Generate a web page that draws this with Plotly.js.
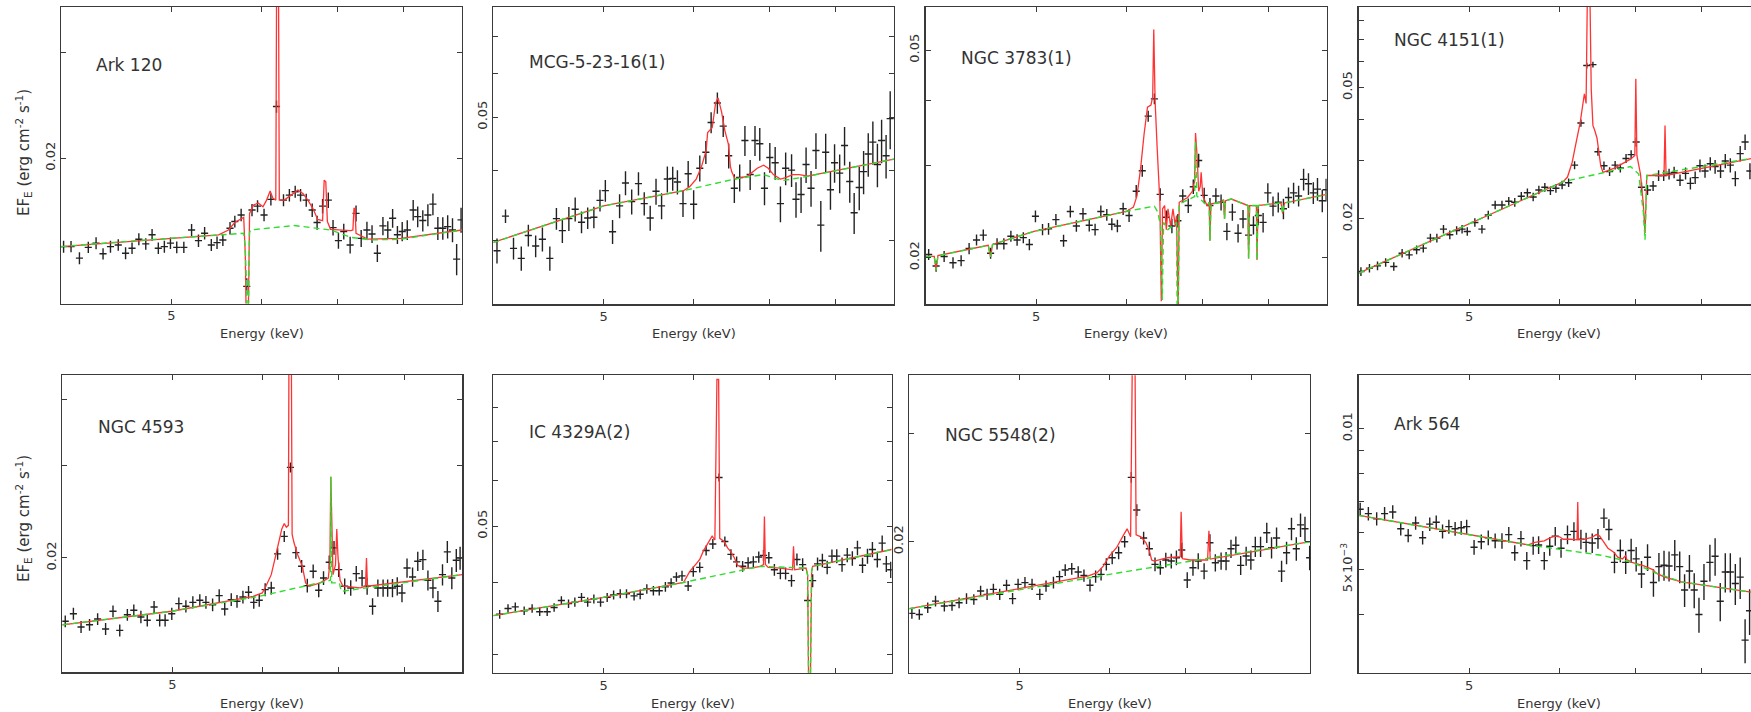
<!DOCTYPE html>
<html><head><meta charset="utf-8">
<script src="https://cdn.plot.ly/plotly-3.0.1.min.js"></script>
<style>html,body{margin:0;padding:0;background:#fff;overflow:hidden}#chart{width:1751px;height:712px}</style>
</head><body><div id="chart"></div>
<script>
// ---------------- DATA ----------------
const sourceNames = ['Ark 120','MCG-5-23-16(1)','NGC 3783(1)','NGC 4151(1)','NGC 4593','IC 4329A(2)','NGC 5548(2)','Ark 564'];
const xTickVals = [5,6,7,8];
const xTickText = ['5','','',''];

// Ark 120
const ark120_energy = [4.021,4.082,4.152,4.227,4.294,4.355,4.421,4.491,4.558,4.618,4.682,4.748,4.809,4.870,4.930,4.991,5.055,5.128,5.209,5.282,5.348,5.421,5.484,5.549,5.630,5.685,5.758,5.824,5.886,5.952,6.031,6.115,6.185,6.273,6.348,6.423,6.493,6.568,6.648,6.714,6.789,6.868,6.934,7.010,7.086,7.178,7.264,7.340,7.426,7.503,7.584,7.670,7.746,7.822,7.898,7.975,8.057,8.154,8.229,8.314,8.400,8.486,8.571,8.657,8.743,8.829,8.903,8.983];
const ark120_flux = [0.01423,0.01423,0.01361,0.01419,0.01442,0.01384,0.01423,0.01432,0.01387,0.01414,0.01464,0.01438,0.01489,0.01414,0.01423,0.01442,0.01419,0.01419,0.01517,0.01456,0.01498,0.01432,0.01445,0.01460,0.01527,0.01567,0.01607,0.01221,0.01638,0.01663,0.01607,0.01707,0.02440,0.01702,0.01735,0.01758,0.01735,0.01702,0.01638,0.01561,0.01663,0.01702,0.01531,0.01456,0.01508,0.01432,0.01617,0.01469,0.01517,0.01494,0.01387,0.01541,0.01517,0.01587,0.01489,0.01508,0.01517,0.01638,0.01597,0.01573,0.01607,0.01676,0.01527,0.01527,0.01537,0.01517,0.01356,0.01577];
const ark120_errpct = [2.3,2.2,2.3,2.2,2.3,2.2,2.3,2.2,2.3,2.2,2.3,2.2,2.3,2.2,2.3,2.2,2.3,2.2,2.3,2.4,2.4,2.3,2.4,2.3,2.4,2.3,2.4,3.2,2.4,2.3,2.4,2.3,2.4,2.3,2.4,2.3,2.4,2.5,2.6,2.7,2.8,3.0,3.0,3.1,3.0,3.2,3.1,3.3,3.2,3.4,3.3,3.5,3.4,3.6,3.5,3.7,3.8,3.9,4.0,4.1,4.2,4.2,4.4,4.3,4.5,4.6,6.0,4.8];
const ark120_modelE = [4.0,4.658,5.502,5.612,5.685,5.788,5.806,5.821,5.839,5.857,5.905,5.960,6.018,6.062,6.106,6.141,6.176,6.189,6.207,6.220,6.282,6.370,6.458,6.524,6.590,6.656,6.722,6.789,6.811,6.833,6.855,6.899,7.188,7.218,7.234,7.249,7.264,7.442,7.949,9.0];
const ark120_modelF = [0.01423,0.01456,0.01489,0.01517,0.01561,0.01592,0.01387,0.0100,0.0100,0.01617,0.01670,0.01683,0.01659,0.01702,0.01762,0.01713,0.01702,0.05,0.05,0.01702,0.01702,0.01735,0.01769,0.01746,0.01702,0.01649,0.01580,0.01573,0.01838,0.01826,0.01567,0.01521,0.01513,0.01517,0.01649,0.01649,0.01498,0.01464,0.01469,0.01517];
const ark120_contE = [4.0,4.658,5.538,5.788,5.806,5.821,5.839,5.857,5.868,6.414,6.899,7.188,7.492,7.949,9.0];
const ark120_contF = [0.01423,0.01456,0.01489,0.01498,0.0142,0.0100,0.0100,0.0150,0.01517,0.01543,0.01517,0.01475,0.01460,0.01464,0.01517];

// MCG-5-23-16(1)
const mcg_energy = [4.030,4.100,4.167,4.233,4.294,4.358,4.418,4.485,4.545,4.600,4.661,4.721,4.782,4.842,4.903,4.964,5.018,5.092,5.165,5.227,5.293,5.366,5.429,5.495,5.560,5.623,5.689,5.751,5.806,5.872,5.934,6.000,6.075,6.150,6.216,6.295,6.370,6.441,6.515,6.586,6.656,6.727,6.793,6.859,6.925,7.000,7.076,7.152,7.228,7.315,7.381,7.457,7.533,7.609,7.685,7.761,7.838,7.914,7.980,8.063,8.143,8.229,8.303,8.389,8.463,8.543,8.623,8.703,8.777,8.857,8.931];
const mcg_flux = [0.02870,0.03313,0.02898,0.02780,0.03058,0.02926,0.03010,0.02780,0.03279,0.03120,0.03279,0.03409,0.03231,0.03288,0.03298,0.03538,0.03683,0.03106,0.03457,0.03803,0.03519,0.03793,0.03490,0.03288,0.03673,0.03457,0.03865,0.03875,0.03817,0.03490,0.03952,0.03481,0.04043,0.04321,0.04889,0.05303,0.04815,0.04259,0.03721,0.03889,0.04537,0.03938,0.04537,0.04475,0.03721,0.04228,0.04136,0.03490,0.04043,0.04012,0.03553,0.03625,0.04105,0.03721,0.04352,0.03192,0.04321,0.03697,0.04136,0.03962,0.04444,0.03827,0.03361,0.03731,0.03986,0.04290,0.04506,0.04105,0.04537,0.04259,0.04969];
const mcg_errpct = [5.2,2.8,4.5,5,4.5,4.5,5,5,4.5,5,5,5,4.5,4.5,4.5,4.5,4.5,5,5,5,5.2,4.8,4.8,5.2,5.4,5.4,5.4,5,5,5.4,5.4,6,5.4,4.8,4.4,4.4,4.4,5.2,6,5.6,6.2,6.2,6.2,6.8,6.8,6.2,6.8,7.4,6.8,6.8,7.4,7.4,7.4,7.4,7.4,10.5,8,8,8,8,8,8.5,8.5,9,9,9,9,9,9,9,12];
const mcg_modelE = [4.0,5.0,5.879,5.952,6.031,6.097,6.154,6.172,6.229,6.273,6.304,6.348,6.392,6.436,6.463,6.480,6.524,6.692,6.824,6.912,6.978,7.051,7.152,7.228,7.330,7.431,7.558,9.0];
const mcg_modelF = [0.02971,0.03457,0.03683,0.03745,0.03865,0.04074,0.04352,0.04691,0.04784,0.05303,0.05417,0.05114,0.04722,0.04475,0.04074,0.03986,0.03865,0.03913,0.04043,0.04093,0.04043,0.03938,0.03865,0.03889,0.03938,0.03938,0.03913,0.04198];
const mcg_contE = [4.0,5.0,5.879,6.515,6.912,7.178,7.457,9.0];
const mcg_contF = [0.02971,0.03457,0.03683,0.03865,0.03938,0.03841,0.03889,0.04198];

// NGC 3783(1)
const n3783_energy = [4.024,4.085,4.152,4.227,4.297,4.367,4.433,4.494,4.561,4.621,4.685,4.752,4.812,4.873,4.933,4.994,5.066,5.128,5.205,5.286,5.359,5.425,5.498,5.568,5.634,5.700,5.769,5.828,5.894,5.963,6.035,6.123,6.198,6.273,6.352,6.427,6.507,6.581,6.661,6.727,6.802,6.872,6.947,7.025,7.107,7.193,7.269,7.355,7.437,7.523,7.599,7.685,7.761,7.838,7.914,7.990,8.074,8.160,8.246,8.331,8.417,8.503,8.589,8.674,8.760,8.834,8.920,8.990];
const n3783_flux = [0.02029,0.01928,0.02011,0.01956,0.01974,0.02083,0.02163,0.02210,0.02040,0.02127,0.02127,0.02199,0.02163,0.02185,0.02120,0.02402,0.02264,0.02272,0.02366,0.02156,0.02453,0.02301,0.02428,0.02308,0.02264,0.02453,0.02417,0.02319,0.02301,0.02482,0.02409,0.02681,0.02935,0.03736,0.04033,0.02645,0.02391,0.02301,0.02355,0.02627,0.02518,0.02736,0.03071,0.02634,0.02518,0.02627,0.02554,0.02246,0.02446,0.02228,0.02373,0.02210,0.02308,0.02409,0.02337,0.02663,0.02511,0.02554,0.02482,0.02609,0.02663,0.02627,0.02826,0.02772,0.02663,0.02707,0.02572,0.02699];
const n3783_errpct = [2.4,2.5,2.4,2.5,2.4,2.5,2.4,2.5,2.4,2.5,2.5,2.4,2.5,2.4,2.5,2.6,2.5,2.6,2.5,2.6,2.6,2.5,2.6,2.7,2.6,2.7,2.6,2.7,2.8,2.7,2.8,2.8,2.6,2.4,2.4,2.8,3,3.2,3,3,3.2,3.2,3,3.4,3.4,3.5,3.5,3.8,3.8,4,4,4.2,4,4.2,4.3,4.3,4.4,4.4,4.5,4.5,4.6,4.6,4.8,4.8,4.8,5,5,5];
const n3783_modelE = [4.000,4.070,4.085,4.100,4.539,4.561,4.579,4.979,6.000,6.088,6.132,6.176,6.220,6.264,6.308,6.330,6.344,6.361,6.388,6.405,6.423,6.441,6.458,6.485,6.507,6.529,6.564,6.595,6.626,6.643,6.652,6.665,6.679,6.793,6.859,6.890,6.903,6.925,6.947,6.969,6.982,7.005,7.066,7.096,7.107,7.122,7.269,7.305,7.320,7.335,7.421,7.675,7.685,7.701,7.807,7.817,7.832,8.206,8.234,8.263,9.0];
const n3783_modelF = [0.02011,0.02011,0.0189,0.02018,0.02113,0.02007,0.0212,0.02246,0.02453,0.025,0.02627,0.02953,0.03442,0.03888,0.03924,0.04067,0.0548,0.04,0.03239,0.02844,0.02554,0.0165,0.02482,0.02518,0.02264,0.02482,0.02301,0.02482,0.02301,0.02409,0.0155,0.0155,0.02554,0.02609,0.02681,0.02808,0.03467,0.03137,0.02681,0.02736,0.02917,0.02627,0.02518,0.02554,0.02156,0.02536,0.02554,0.02583,0.02373,0.02572,0.02591,0.02518,0.01994,0.02518,0.02518,0.0198,0.02518,0.02547,0.02428,0.02547,0.02645];
const n3783_contE = [4.000,4.070,4.085,4.100,4.539,4.561,4.579,4.979,6.000,6.352,6.396,6.432,6.454,6.471,6.529,6.595,6.643,6.652,6.665,6.679,6.859,6.890,6.903,6.921,7.066,7.096,7.107,7.122,7.269,7.305,7.320,7.335,7.421,7.675,7.685,7.701,7.807,7.817,7.832,8.206,8.234,8.263,9.0];
const n3783_contF = [0.02011,0.02011,0.0189,0.02018,0.02113,0.02007,0.0212,0.02246,0.02453,0.02511,0.02446,0.02301,0.0166,0.02337,0.02264,0.02301,0.02337,0.0155,0.0155,0.02536,0.02609,0.0262,0.0334,0.02627,0.02518,0.02554,0.02156,0.02536,0.02554,0.02583,0.02373,0.02572,0.02591,0.02518,0.01994,0.02518,0.02518,0.0198,0.02518,0.02547,0.02428,0.02547,0.02645];

// NGC 4151(1)
const n4151_energy = [4.018,4.088,4.155,4.224,4.294,4.367,4.430,4.497,4.558,4.624,4.685,4.748,4.809,4.876,4.930,4.982,5.059,5.132,5.198,5.271,5.344,5.418,5.484,5.557,5.626,5.692,5.758,5.828,5.894,5.960,6.035,6.115,6.189,6.269,6.344,6.423,6.489,6.568,6.643,6.718,6.789,6.868,6.939,7.010,7.086,7.173,7.254,7.335,7.411,7.492,7.569,7.660,7.746,7.822,7.898,7.975,8.057,8.143,8.223,8.314,8.394,8.480,8.566,8.651,8.737,8.823];
const n4151_flux = [0.01383,0.01416,0.01439,0.01474,0.01433,0.01572,0.01554,0.01610,0.01629,0.01747,0.01747,0.01860,0.01788,0.01843,0.01860,0.01830,0.01949,0.01860,0.02052,0.02202,0.02202,0.02260,0.02243,0.02341,0.02399,0.02329,0.02445,0.02491,0.02434,0.02474,0.02532,0.02572,0.02908,0.03903,0.05833,0.05872,0.03194,0.02896,0.02780,0.02908,0.02850,0.03048,0.03129,0.03419,0.02491,0.02445,0.02514,0.02705,0.02705,0.02734,0.02763,0.02618,0.02746,0.02561,0.02665,0.02896,0.02792,0.02936,0.02879,0.02792,0.02994,0.02908,0.02647,0.03153,0.03419,0.02792];
const n4151_errpct = [3,3,3,3,3,3,3,3,3,3,3,3,3,3,3,3,3,3,3,3,3,3,3,3,3,3,3,3,3,3,3,3,2.8,2.5,2,2,2.8,3,3,3,3,3.2,3.2,3.2,3.5,3.5,3.5,3.8,3.8,3.8,4,4,4.2,4.2,4.4,4.4,4.6,4.6,4.8,4.8,5,5,5.2,5.4,5.4,5.6];
const n4151_modelE = [4.0,5.198,6.048,6.101,6.159,6.203,6.260,6.313,6.335,6.352,6.383,6.401,6.423,6.445,6.476,6.524,6.555,6.709,6.930,6.991,7.005,7.020,7.071,7.112,7.137,7.162,7.416,7.431,7.447,8.857];
const n4151_modelF = [0.01367,0.02052,0.0259,0.02676,0.02965,0.03355,0.03919,0.04789,0.04474,0.1,0.1,0.04947,0.03839,0.03718,0.03516,0.02908,0.02763,0.0285,0.03032,0.03113,0.0532,0.03113,0.02734,0.02214,0.01809,0.02705,0.02705,0.03839,0.02705,0.03048];
const n4151_contE = [4.0,5.198,6.048,6.930,7.046,7.112,7.137,7.162,8.857];
const n4151_contF = [0.01367,0.02052,0.0259,0.02879,0.02734,0.02098,0.01727,0.02705,0.03048];

// NGC 4593
const n4593_energy = [4.024,4.091,4.155,4.227,4.297,4.367,4.433,4.494,4.564,4.624,4.691,4.752,4.818,4.873,4.927,4.994,5.066,5.139,5.212,5.286,5.352,5.425,5.498,5.560,5.634,5.700,5.769,5.835,5.897,5.963,6.035,6.110,6.189,6.273,6.352,6.423,6.498,6.573,6.652,6.727,6.793,6.872,6.939,7.005,7.091,7.178,7.259,7.345,7.421,7.503,7.584,7.665,7.736,7.812,7.888,7.964,8.046,8.137,8.223,8.309,8.394,8.480,8.566,8.646,8.731,8.811,8.891,8.960];
const n4593_flux = [0.01516,0.01567,0.01479,0.01493,0.01531,0.01466,0.01584,0.01457,0.01560,0.01591,0.01545,0.01523,0.01614,0.01523,0.01523,0.01567,0.01638,0.01619,0.01647,0.01662,0.01647,0.01630,0.01696,0.01600,0.01667,0.01655,0.01686,0.01721,0.01647,0.01662,0.01741,0.01754,0.02036,0.02198,0.02971,0.02047,0.01928,0.01772,0.01887,0.01736,0.01832,0.01962,0.02090,0.01900,0.01767,0.01754,0.01867,0.01832,0.01767,0.01619,0.01754,0.01754,0.01754,0.01754,0.01767,0.01716,0.01914,0.01840,0.01971,0.01985,0.01814,0.01754,0.01655,0.01859,0.02054,0.01832,0.01980,0.02000];
const n4593_errpct = [2.6,2.6,2.6,2.6,2.6,2.6,2.6,2.6,2.6,2.6,2.7,2.7,2.7,2.7,2.7,2.7,2.7,2.7,2.7,2.7,2.8,2.8,2.8,2.8,2.8,2.8,2.8,2.8,2.8,2.8,2.8,2.8,2.6,2.4,2.2,2.6,2.8,3,3,3,3,3,3,3.2,3.4,3.4,3.4,3.6,3.6,3.6,3.8,3.8,3.8,4,4,4,4.2,4.2,4.2,4.4,4.4,4.4,4.6,4.6,4.8,4.8,5,5];
const n4593_modelE = [4.0,4.994,5.890,6.000,6.044,6.110,6.176,6.242,6.273,6.300,6.326,6.335,6.361,6.374,6.396,6.441,6.507,6.551,6.595,6.749,6.859,6.881,6.894,6.912,6.925,6.960,6.978,6.996,7.025,7.066,7.320,7.396,7.411,7.426,9.0];
const n4593_modelF = [0.01493,0.01584,0.01691,0.01716,0.01767,0.01859,0.02054,0.0227,0.02324,0.02288,0.02306,0.06,0.06,0.02216,0.02144,0.02036,0.01928,0.01793,0.01767,0.01793,0.01832,0.01957,0.02853,0.01957,0.01859,0.01943,0.0227,0.02,0.01814,0.01767,0.01754,0.01767,0.02,0.01767,0.01859];
const n4593_contE = [4.0,4.994,5.963,6.859,6.890,6.894,6.907,7.015,7.041,9.0];
const n4593_contF = [0.01493,0.01584,0.01691,0.01814,0.01814,0.02853,0.01793,0.01793,0.01728,0.01859];

// IC 4329A(2)
const ic4329a_energy = [4.052,4.121,4.182,4.258,4.327,4.394,4.461,4.524,4.591,4.658,4.718,4.782,4.842,4.903,4.970,5.037,5.103,5.172,5.238,5.319,5.385,5.458,5.531,5.597,5.667,5.733,5.795,5.861,5.934,5.996,6.075,6.154,6.238,6.317,6.392,6.471,6.546,6.626,6.700,6.771,6.846,6.912,6.987,7.066,7.152,7.228,7.315,7.396,7.482,7.558,7.635,7.711,7.787,7.863,7.939,8.017,8.103,8.189,8.274,8.360,8.446,8.531,8.617,8.703,8.789,8.863,8.943];
const ic4329a_flux = [0.03525,0.03608,0.03631,0.03576,0.03608,0.03562,0.03562,0.03622,0.03724,0.03677,0.03700,0.03770,0.03700,0.03747,0.03700,0.03770,0.03806,0.03825,0.03825,0.03793,0.03816,0.03899,0.03871,0.03871,0.03931,0.03991,0.04088,0.04106,0.03945,0.04176,0.04247,0.04541,0.04659,0.06068,0.04706,0.04471,0.04341,0.04265,0.04324,0.04341,0.04424,0.04453,0.04412,0.04206,0.04147,0.04147,0.04029,0.04382,0.04294,0.03724,0.04029,0.04306,0.04365,0.04247,0.04441,0.04441,0.04294,0.04459,0.04400,0.04588,0.04282,0.04441,0.04559,0.04382,0.04676,0.04306,0.04206];
const ic4329a_errpct = [1.7,1.7,1.7,1.7,1.7,1.7,1.7,1.7,1.7,1.7,1.8,1.8,1.8,1.8,1.8,1.8,1.8,1.8,1.8,1.8,1.9,1.9,1.9,1.9,1.9,1.9,1.9,2,2,2,2,2,2,1.6,2,2.1,2.1,2.1,2.2,2.2,2.2,2.2,2.3,2.3,2.3,2.4,2.4,2.4,2.5,2.6,2.6,2.6,2.7,2.7,2.7,2.8,2.8,2.8,2.9,2.9,3,3,3,3.1,3.1,3.2,3.2];
const ic4329a_modelE = [4.0,5.0,5.879,5.952,6.031,6.075,6.119,6.185,6.229,6.264,6.290,6.312,6.326,6.383,6.427,6.471,6.515,6.559,6.626,6.736,6.868,6.912,6.925,6.938,6.978,7.152,7.330,7.345,7.360,7.533,7.558,7.574,7.599,7.619,7.635,8.96];
const ic4329a_modelF = [0.03507,0.0377,0.04,0.04176,0.04306,0.04382,0.04529,0.04706,0.04806,0.04735,0.0895,0.0895,0.04765,0.04706,0.04588,0.04518,0.04412,0.04282,0.04235,0.04235,0.04265,0.04294,0.05197,0.04294,0.04247,0.04235,0.04206,0.04618,0.04206,0.04235,0.04118,0.026,0.026,0.04176,0.04265,0.04559];
const ic4329a_contE = [4.0,5.0,5.879,6.868,7.533,7.558,7.574,7.599,7.619,7.635,8.96];
const ic4329a_contF = [0.03507,0.0377,0.04,0.04265,0.04235,0.04118,0.026,0.026,0.04176,0.04265,0.04559];

// NGC 5548(2)
const n5548_energy = [4.021,4.082,4.152,4.218,4.294,4.361,4.424,4.491,4.558,4.621,4.682,4.742,4.803,4.870,4.930,4.985,5.055,5.128,5.209,5.275,5.355,5.421,5.484,5.557,5.630,5.696,5.766,5.832,5.897,5.960,6.031,6.110,6.185,6.269,6.339,6.427,6.502,6.577,6.648,6.722,6.797,6.868,6.943,7.020,7.102,7.178,7.264,7.350,7.431,7.518,7.594,7.670,7.746,7.822,7.909,7.985,8.057,8.143,8.246,8.326,8.411,8.497,8.583,8.669,8.754,8.829,8.909,8.994];
const n5548_flux = [0.01528,0.01522,0.01561,0.01600,0.01571,0.01574,0.01590,0.01615,0.01610,0.01662,0.01641,0.01672,0.01641,0.01698,0.01615,0.01704,0.01715,0.01704,0.01641,0.01693,0.01715,0.01754,0.01798,0.01807,0.01785,0.01762,0.01698,0.01754,0.01769,0.01837,0.01883,0.01919,0.02000,0.02546,0.02253,0.02028,0.01948,0.01837,0.01814,0.01867,0.01860,0.01883,0.01938,0.01732,0.01814,0.01860,0.01791,0.01992,0.01848,0.01860,0.01860,0.01948,0.01973,0.01830,0.01895,0.01867,0.01963,0.01963,0.02068,0.01955,0.02028,0.01791,0.01919,0.02099,0.01948,0.02130,0.02099,0.01883];
const n5548_errpct = [2,2,2,2,2,2,2,2,2,2,2.1,2.1,2.1,2.1,2.1,2.1,2.1,2.1,2.1,2.1,2.2,2.2,2.2,2.2,2.2,2.3,2.3,2.3,2.3,2.3,2.4,2.4,2.2,2,2.2,2.4,2.6,2.6,2.6,2.8,2.8,2.8,2.8,3,3,3,3,3.2,3.2,3.2,3.4,3.4,3.4,3.6,3.6,3.6,3.8,3.8,3.8,4,4,4,4.2,4.2,4.4,4.4,4.6,4.6];
const n5548_modelE = [4.0,5.740,5.850,5.923,5.996,6.084,6.172,6.216,6.238,6.260,6.286,6.313,6.330,6.392,6.458,6.502,6.533,6.568,6.744,6.921,6.934,6.952,7.061,7.315,7.335,7.355,9.0];
const n5548_modelF = [0.01555,0.01758,0.0178,0.01825,0.01895,0.01955,0.02052,0.02099,0.02068,0.02037,0.045,0.045,0.02052,0.02037,0.01992,0.01931,0.01867,0.0186,0.01883,0.0189,0.02238,0.01876,0.01867,0.01867,0.02083,0.01874,0.02];
const n5548_contE = [4.0,5.996,9.0];
const n5548_contF = [0.01555,0.01769,0.02];

// Ark 564
const ark564_energy = [4.012,4.079,4.148,4.215,4.285,4.355,4.421,4.488,4.552,4.618,4.679,4.739,4.800,4.861,4.921,4.976,5.051,5.125,5.198,5.271,5.344,5.418,5.484,5.553,5.619,5.692,5.755,5.821,5.886,5.952,6.022,6.101,6.181,6.269,6.335,6.414,6.489,6.568,6.634,6.709,6.789,6.863,6.939,7.010,7.086,7.173,7.259,7.340,7.416,7.492,7.579,7.655,7.731,7.807,7.883,7.959,8.040,8.137,8.223,8.309,8.394,8.480,8.566,8.651,8.737,8.817];
const ark564_flux = [0.006725,0.006582,0.006418,0.006582,0.006637,0.006110,0.005911,0.006286,0.005848,0.006253,0.006308,0.006033,0.006176,0.006110,0.006143,0.006176,0.005580,0.005732,0.005848,0.005759,0.005759,0.005938,0.005429,0.005821,0.005223,0.005625,0.005643,0.005223,0.005607,0.005893,0.005554,0.005938,0.006033,0.005804,0.005714,0.005696,0.005821,0.006440,0.006088,0.005179,0.005491,0.005179,0.005491,0.005268,0.004890,0.005313,0.004691,0.005071,0.005107,0.005089,0.005375,0.005071,0.004522,0.004963,0.004522,0.004007,0.004721,0.005179,0.005339,0.004279,0.004941,0.004941,0.004669,0.004816,0.003534,0.004081];
const ark564_errpct = [3.3,3.3,3.3,3.3,3.3,3.3,3.3,3.3,3.3,3.3,3.4,3.4,3.4,3.4,3.4,3.4,3.6,3.6,3.6,3.6,3.8,3.8,3.8,3.8,4.4,4.4,4.4,4.4,4.6,4.6,4.6,4.6,4.6,4.8,4.8,4.8,4.8,4.8,5.2,5.2,5.6,5.6,6,6,6.6,6.6,6.8,7,7.4,7.4,7.6,7.8,8,8.2,8.6,8.6,8.8,9,9.2,9.4,9.6,9.6,10,10.2,10.8,11.2];
const ark564_modelE = [4.0,5.637,5.711,5.821,5.894,5.949,6.004,6.048,6.137,6.220,6.229,6.238,6.313,6.401,6.467,6.511,6.555,6.621,6.700,6.753,6.819,6.863,6.877,6.952,7.122,7.249,7.300,7.426,7.680,8.857];
const ark564_modelF = [0.006527,0.005643,0.005714,0.005759,0.005848,0.005893,0.005875,0.005804,0.005804,0.005786,0.006967,0.005786,0.005804,0.005848,0.005938,0.005893,0.005759,0.005554,0.005446,0.005313,0.005268,0.005357,0.00525,0.005179,0.005089,0.005,0.004912,0.004816,0.004706,0.004471];
const ark564_contE = [4.0,5.637,6.048,6.555,6.952,7.300,7.680,8.857];
const ark564_contF = [0.006527,0.005643,0.005509,0.005357,0.005179,0.004912,0.004706,0.004471];

// y tick values / labels per panel
const yTicks_ark120 = [0.02,0.03];            const yLabels_ark120 = ['0.02',''];
const yTicks_mcg = [0.03,0.04,0.05,0.06,0.07]; const yLabels_mcg = ['','','0.05','',''];
const yTicks_n3783 = [0.02,0.03,0.04,0.05];   const yLabels_n3783 = ['0.02','','','0.05'];
const yTicks_n4151 = [0.02,0.03,0.04,0.05,0.06,0.07,0.08]; const yLabels_n4151 = ['0.02','','','0.05','','',''];
const yTicks_n4593 = [0.02,0.03,0.04];        const yLabels_n4593 = ['0.02','',''];
const yTicks_ic4329a = [0.03,0.04,0.05,0.06,0.07,0.08]; const yLabels_ic4329a = ['','','0.05','','',''];
const yTicks_n5548 = [0.02,0.03];             const yLabels_n5548 = ['0.02',''];
const yTicks_ark564 = [0.004,0.005,0.006,0.007,0.008,0.009,0.01]; const yLabels_ark564 = ['','5×10<sup>−3</sup>','','','','','0.01'];

// ---------------- LAYOUT / STYLE ----------------
const W = 1751, H = 712;
const panels = [
  {E:ark120_energy,F:ark120_flux,P:ark120_errpct,mE:ark120_modelE,mF:ark120_modelF,cE:ark120_contE,cF:ark120_contF,yt:yTicks_ark120,yl:yLabels_ark120,
   px:[61,462],py:[7,303.5],xmax:9,yr:[0.01143,0.0358],name:[94,65],mirrorY:true},
  {E:mcg_energy,F:mcg_flux,P:mcg_errpct,mE:mcg_modelE,mF:mcg_modelF,cE:mcg_contE,cF:mcg_contF,yt:yTicks_mcg,yl:yLabels_mcg,
   px:[493.3,894],py:[7,304.3],xmax:9,yr:[0.02297,0.079],name:[527,62],mirrorY:true},
  {E:n3783_energy,F:n3783_flux,P:n3783_errpct,mE:n3783_modelE,mF:n3783_modelF,cE:n3783_contE,cF:n3783_contF,yt:yTicks_n3783,yl:yLabels_n3783,
   px:[925.7,1326.7],py:[7,304.3],xmax:9,yr:[0.01628,0.0605],name:[959,58],mirrorY:true},
  {E:n4151_energy,F:n4151_flux,P:n4151_errpct,mE:n4151_modelE,mF:n4151_modelF,cE:n4151_contE,cF:n4151_contF,yt:yTicks_n4151,yl:yLabels_n4151,
   px:[1358.7,1751],py:[7,304.3],xmax:8.842,yr:[0.011,0.0878],name:[1392,40],mirrorY:false,titleX:1559},
  {E:n4593_energy,F:n4593_flux,P:n4593_errpct,mE:n4593_modelE,mF:n4593_modelF,cE:n4593_contE,cF:n4593_contF,yt:yTicks_n4593,yl:yLabels_n4593,
   px:[62.3,462.3],py:[375,672.3],xmax:9,yr:[0.01213,0.0445],name:[96,427],mirrorY:true},
  {E:ic4329a_energy,F:ic4329a_flux,P:ic4329a_errpct,mE:ic4329a_modelE,mF:ic4329a_modelF,cE:ic4329a_contE,cF:ic4329a_contF,yt:yTicks_ic4329a,yl:yLabels_ic4329a,
   px:[493.3,891.7],py:[375.3,672.7],xmax:8.96,yr:[0.02796,0.091],name:[527,432],mirrorY:true},
  {E:n5548_energy,F:n5548_flux,P:n5548_errpct,mE:n5548_modelE,mF:n5548_modelF,cE:n5548_contE,cF:n5548_contF,yt:yTicks_n5548,yl:yLabels_n5548,
   px:[909.3,1310],py:[375.3,672.7],xmax:9,yr:[0.01223,0.03735],name:[943,435],mirrorY:true},
  {E:ark564_energy,F:ark564_flux,P:ark564_errpct,mE:ark564_modelE,mF:ark564_modelF,cE:ark564_contE,cF:ark564_contF,yt:yTicks_ark564,yl:yLabels_ark564,
   px:[1358.7,1751],py:[375.3,672.7],xmax:8.842,yr:[0.00301,0.013],name:[1392,424],mirrorY:false,titleX:1559}
];

const AX = '#3a3a3a', TXT = '#333333', FONT = 'DejaVu Sans, Verdana, sans-serif';
const traces = [];
const layout = {
  width: W, height: H, margin: {l:0, r:0, t:0, b:0},
  paper_bgcolor: '#ffffff', plot_bgcolor: '#ffffff', showlegend: false,
  font: {family: FONT, size: 13, color: TXT},
  annotations: []
};

panels.forEach((p, i) => {
  const n = i + 1;
  const xs = n === 1 ? 'x' : 'x' + n, ys = n === 1 ? 'y' : 'y' + n;
  const xk = n === 1 ? 'xaxis' : 'xaxis' + n, yk = n === 1 ? 'yaxis' : 'yaxis' + n;
  // data crosses
  traces.push({
    type: 'scatter', mode: 'markers', x: p.E, y: p.F, xaxis: xs, yaxis: ys,
    marker: {size: 2, color: 'rgba(0,0,0,0)'},
    error_y: {type: 'data', array: p.F.map((f, k) => f * p.P[k] / 100), color: '#222222', thickness: 1.4, width: 0},
    error_x: {type: 'percent', value: 0.72, color: '#222222', thickness: 1.4, width: 0},
    hoverinfo: 'skip'
  });
  // full model (red, solid)
  traces.push({type: 'scatter', mode: 'lines', x: p.mE, y: p.mF, xaxis: xs, yaxis: ys,
    line: {color: '#ff3333', width: 1.3}, hoverinfo: 'skip'});
  // continuum (green, dashed)
  traces.push({type: 'scatter', mode: 'lines', x: p.cE, y: p.cF, xaxis: xs, yaxis: ys,
    line: {color: '#2fdc2f', width: 1.4, dash: '6px,4px'}, hoverinfo: 'skip'});

  layout[xk] = {
    domain: [p.px[0] / W, Math.min(1, p.px[1] / W)], anchor: ys, type: 'log',
    range: [Math.log10(4), Math.log10(p.xmax)],
    tickmode: 'array', tickvals: xTickVals, ticktext: xTickText,
    ticks: 'inside', ticklen: 5, tickwidth: 1, tickcolor: AX,
    showline: true, linecolor: AX, linewidth: 1.3, mirror: 'ticks',
    showgrid: false, zeroline: false, tickfont: {family: FONT, size: 13, color: TXT}
  };
  layout[yk] = {
    domain: [1 - p.py[1] / H, 1 - p.py[0] / H], anchor: xs, type: 'log',
    range: [Math.log10(p.yr[0]), Math.log10(p.yr[1])],
    tickmode: 'array', tickvals: p.yt, ticktext: p.yl, tickangle: -90,
    ticks: 'inside', ticklen: 5, tickwidth: 1, tickcolor: AX,
    showline: true, linecolor: AX, linewidth: 1.3, mirror: p.mirrorY ? 'ticks' : false,
    showgrid: false, zeroline: false, tickfont: {family: FONT, size: 13, color: TXT}
  };
  // source name
  layout.annotations.push({xref: 'paper', yref: 'paper', x: p.name[0] / W, y: 1 - p.name[1] / H,
    xanchor: 'left', yanchor: 'middle', showarrow: false, text: sourceNames[i],
    font: {family: FONT, size: 17, color: TXT}});
  // x-axis title
  const cx = p.titleX !== undefined ? p.titleX : (p.px[0] + p.px[1]) / 2;
  const ty = n <= 4 ? 333 : 703;
  layout.annotations.push({xref: 'paper', yref: 'paper', x: cx / W, y: 1 - ty / H,
    xanchor: 'center', yanchor: 'middle', showarrow: false, text: 'Energy (keV)',
    font: {family: FONT, size: 13, color: TXT}});
});
// y-axis titles (left column only)
[[23, 153], [23, 519]].forEach(pos => {
  layout.annotations.push({xref: 'paper', yref: 'paper', x: pos[0] / W, y: 1 - pos[1] / H,
    xanchor: 'center', yanchor: 'middle', showarrow: false, textangle: -90,
    text: 'EF<sub>E</sub> (erg cm<sup>-2</sup> s<sup>-1</sup>)',
    font: {family: FONT, size: 15, color: TXT}});
});

Plotly.newPlot('chart', traces, layout, {staticPlot: true, displayModeBar: false});
</script>
</body></html>
